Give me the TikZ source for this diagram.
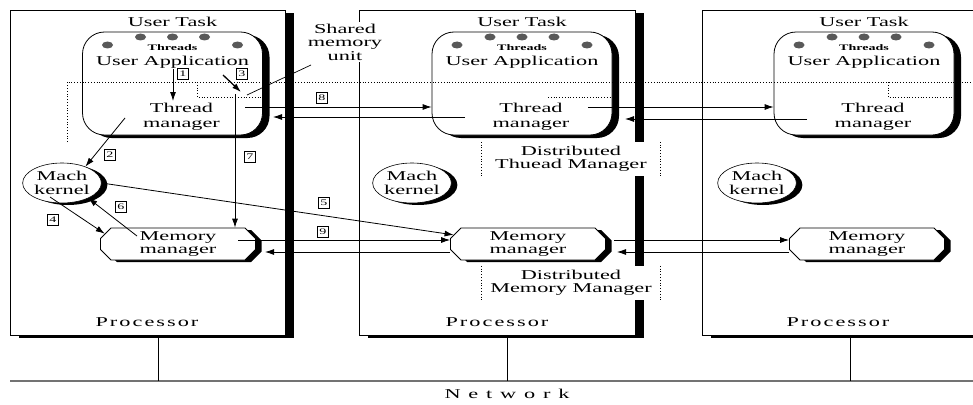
\documentclass[tikz,border=0pt]{standalone}
\usepackage{fontspec}
\setmainfont{Liberation Serif}[FakeStretch=1.65]
\newfontfamily\procfont{Liberation Serif}[FakeStretch=1.65,LetterSpace=15]
\usetikzlibrary{shapes.geometric,shapes.misc,shadows,arrows.meta}
\begin{document}
\begin{tikzpicture}[x=1pt,y=-1pt,
  every node/.style={inner sep=0pt},
  txt/.style={font=\fontsize{13.5}{14.5}\selectfont, align=center},
  procbox/.style={draw, line width=0.8pt, fill=white,
     drop shadow={shadow xshift=9pt, shadow yshift=-3pt, opacity=1, fill=black}},
  proctxt/.style={font=\procfont\fontsize{13.5}{14.5}\selectfont},
  utbox/.style={draw, line width=0.8pt, fill=white, rounded corners=22pt,
     minimum width=180, minimum height=103,
     drop shadow={shadow xshift=7pt, shadow yshift=-3pt, opacity=1, fill=black}},
  mk/.style={ellipse, draw, line width=0.6pt, fill=white, minimum width=70, minimum height=40,
     font=\fontsize{13.5}{14.5}\selectfont, align=center,
     drop shadow={shadow xshift=6pt, shadow yshift=-2pt, opacity=1, fill=black}},
  mm/.style={chamfered rectangle, chamfered rectangle xsep=7pt, chamfered rectangle ysep=3.5pt,
     draw, line width=0.8pt, fill=white, minimum width=155, minimum height=32,
     font=\fontsize{13.5}{12.5}\selectfont, align=center,
     drop shadow={shadow xshift=6pt, shadow yshift=-2pt, opacity=1, fill=black}},
  thr/.style={font=\fontsize{8.5}{9}\selectfont\bfseries},
  num/.style={draw, line width=0.6pt, minimum width=11, minimum height=11,
     font=\fontsize{8.5}{8.5}\selectfont},
  dlab/.style={fill=white, minimum width=178, minimum height=34, align=center,
     font=\fontsize{13.5}{13.5}\selectfont},
  arr/.style={-{Latex[length=9pt,width=6pt]}, line width=0.8pt},
  ln/.style={line width=0.8pt},
  dots/.style={dotted, line width=0.8pt},
  dotc/.style={fill=black!65}
]
\clip (0,0) rectangle (973,404);
\fill[white] (0,0) rectangle (973,404);

% processors
\node[procbox, minimum width=275, minimum height=325] (p1) at (147.5,172.5) {};
\node[procbox, minimum width=276, minimum height=325] (p2) at (497,172.5) {};
\node[procbox, minimum width=288, minimum height=325] (p3) at (846,172.5) {};
\node[proctxt] (pt1) at (147,322) {Processor};
\node[proctxt] (pt2) at (497,322) {Processor};
\node[proctxt] (pt3) at (838,322) {Processor};

% network
\coordinate (nl) at (10,381);
\coordinate (nr) at (973,381);
\draw[line width=1.8pt, black!55] (nl) -- (nr);
\node[txt] (net) at (507,394) {N\, e\, t\, w\, o\, r\, k};
\coordinate (v1) at (158,381);
\coordinate (v2) at (507,381);
\coordinate (v3) at (850,381);
\draw[ln] (v1 |- p1.south) -- (v1);
\draw[ln] (v2 |- p2.south) -- (v2);
\draw[ln] (v3 |- p3.south) -- (v3);

% user tasks
\foreach \i/\cx in {1/172.5,2/522,3/864}{
  \node[utbox] (ut\i) at (\cx,83.5) {};
  \fill[dotc] ({\cx-65},45) ellipse (5.5pt and 3.5pt);
  \fill[dotc] ({\cx-32},37) ellipse (5.5pt and 3.5pt);
  \fill[dotc] ({\cx},37) ellipse (5.5pt and 3.5pt);
  \fill[dotc] ({\cx+32},37) ellipse (5.5pt and 3.5pt);
  \fill[dotc] ({\cx+65},45) ellipse (5.5pt and 3.5pt);
  \node[txt] (utt\i) at (\cx,22) {User Task};
  \node[thr] (th\i) at (\cx,48) {Threads};
  \node[txt] (ua\i) at (\cx,62) {User Application};
  \node[txt] (tm\i) at ({\cx+9},117) {Thread\\manager};
}

% mach kernels
\node[mk] (mk1) at (62,183) {Mach\\kernel};
\node[mk] (mk2) at (412,183) {Mach\\kernel};
\node[mk] (mk3) at (757,183) {Mach\\kernel};

% memory managers
\node[mm] (mm1) at (178,244) {Memory\\manager};
\node[mm] (mm2) at (528,244) {Memory\\manager};
\node[mm] (mm3) at (867,244) {Memory\\manager};

% shared memory dotted lines
\coordinate (d0) at (67,82);
\coordinate (d1) at (973,82);
\coordinate (d2) at (67,142);
\draw[dots] (d2) -- (d0) -- (d1);
\coordinate (e1) at (197,82);
\coordinate (e2) at (197,97);
\coordinate (e3) at (262,97);
\draw[dots] (e1) -- (e2) -- (e3);
\coordinate (f1) at (548,97);
\coordinate (f2) at (610,97);
\draw[dots] (f1) -- (f2);
\coordinate (g1) at (888,82);
\coordinate (g2) at (888,97);
\coordinate (g3) at (953,97);
\draw[dots] (g1) -- (g2) -- (g3);

% arrows in node 1
\coordinate (a1s) at (173,69);
\coordinate (a1e) at (173,101);
\draw[arr] (a1s) -- (a1e);
\coordinate (a3s) at (223,75);
\coordinate (a3e) at (241,92);
\draw[arr, line width=1.3pt] (a3s) -- (a3e);
\coordinate (a7s) at (235,94);
\draw[arr] (a7s) -- (a7s |- mm1.north);
\coordinate (a2s) at (125,118);
\draw[arr] (a2s) -- (mk1.35);
\coordinate (a4s) at (50,197);
\draw[arr] (a4s) -- (mm1.172);
\coordinate (a6s) at (137,236);
\draw[arr] (a6s) -- (mk1.-30);
\draw[arr] (mk1.east) -- (mm2.173);

% memory manager lines
\coordinate (a9s) at (238,240);
\draw[arr] (a9s) -- (a9s -| mm2.west);
\coordinate (r1) at (265,252);
\draw[arr] (r1 -| mm2.west) -- (r1);
\coordinate (q1) at (614,240);
\draw[arr] (q1) -- (q1 -| mm3.west);
\coordinate (r2) at (617,252);
\draw[arr] (r2 -| mm3.west) -- (r2);

% thread manager lines
\coordinate (b1) at (245,107);
\draw[arr] (b1) -- (b1 -| ut2.west);
\coordinate (c1s) at (465,117);
\coordinate (c1e) at (273,117);
\draw[arr] (c1s) -- (c1e);
\coordinate (b2) at (588,107);
\draw[arr] (b2) -- (b2 -| ut3.west);
\coordinate (c2s) at (807,119);
\coordinate (c2e) at (625,119);
\draw[arr] (c2s) -- (c2e);

% number labels
\node[num] (n1) at (183,74) {1};
\node[num] (n3) at (242,74) {3};
\node[num] (n2) at (110,155) {2};
\node[num] (n7) at (250,157) {7};
\node[num] (n4) at (53,220) {4};
\node[num] (n6) at (121,207) {6};
\node[num] (n5) at (324,203) {5};
\node[num] (n9) at (323,232) {9};
\node[num] (n8) at (322,98) {8};

% distributed labels
\node[dlab] (dtm) at (571,159) {Distributed\\Thuead Manager};
\draw[dots] (dtm.north west) -- (dtm.south west);
\draw[dots] (dtm.north east) -- (dtm.south east);
\node[dlab] (dmm) at (571,283) {Distributed\\Memory Manager};
\draw[dots] (dmm.north west) -- (dmm.south west);
\draw[dots] (dmm.north east) -- (dmm.south east);

% shared memory unit label
\node[txt, fill=white, inner sep=1.5pt, font=\fontsize{13.5}{13.5}\selectfont] (smu) at (345,42) {Shared\\memory\\unit};
\coordinate (sp0) at (311,65);
\coordinate (sp1) at (247,95);
\draw[line width=0.7pt] (sp0) -- (sp1);
\end{tikzpicture}
\end{document}
